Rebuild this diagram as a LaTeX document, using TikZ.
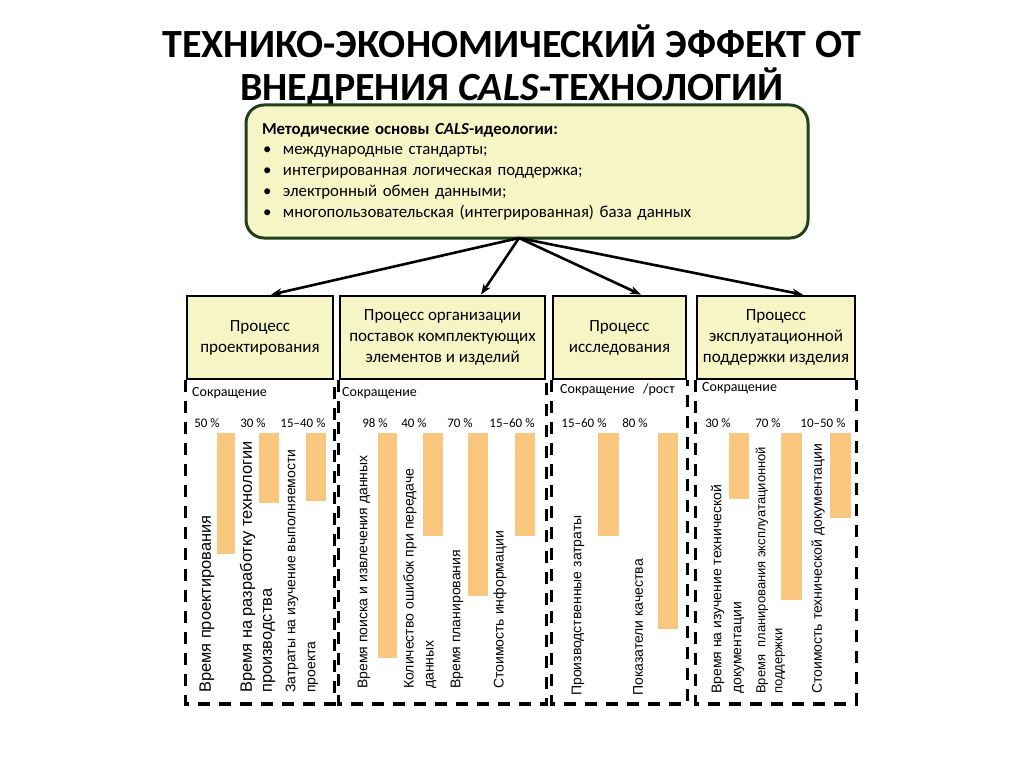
\documentclass[tikz,border=0pt]{standalone}
\usepackage{fontspec}
\setmainfont{Carlito}
\newfontfamily\arialf{Liberation Sans}
\usetikzlibrary{arrows.meta}
\definecolor{boxfill}{HTML}{F6F5C6}
\definecolor{topborder}{HTML}{22401A}
\definecolor{barcol}{HTML}{F9C77E}
\newcommand{\blt}{\makebox[21pt][l]{\hspace{1pt}\textbullet}}
\tikzset{
  topbox/.style={draw=topborder, line width=3pt, fill=boxfill, rounded corners=18pt,
    minimum width=562pt, minimum height=133pt, text width=530pt, align=left,
    font=\fontsize{16.8}{20.7}\selectfont},
  procbox/.style={draw=black, line width=2.7pt, fill=boxfill, align=center,
    minimum height=83pt, inner sep=2pt, font=\fontsize{17}{21}\selectfont},
  arr/.style={line width=2.6pt, -{Stealth[length=11pt,width=8pt]}},
  panel/.style={line width=3.5pt, dash pattern=on 12pt off 9pt},
  bar/.style={fill=barcol},
  pct/.style={inner sep=0pt, font=\fontsize{13}{15}\selectfont},
  redu/.style={inner sep=0pt, anchor=west, font=\fontsize{14}{16}\selectfont},
  rlab/.style={rotate=90, anchor=west, inner sep=0pt, align=left,
    font=\arialf\fontsize{14}{20}\selectfont},
  rlabbig/.style={rlab, font=\arialf\fontsize{16.4}{20}\selectfont},
  rlabsmall/.style={rlab, font=\arialf\fontsize{13}{17}\selectfont},
}
\begin{document}
\begin{tikzpicture}[x=1pt,y=-1pt]
\useasboundingbox[fill=white] (0,0) rectangle (1024,767);

% title
\node[align=center, font=\fontsize{40}{43}\bfseries\selectfont] (title) at (512,65.5)
  {ТЕХНИКО-ЭКОНОМИЧЕСКИЙ ЭФФЕКТ ОТ\\ВНЕДРЕНИЯ \textit{CALS}-ТЕХНОЛОГИЙ};

% top box
\node[topbox] (top) at (527,171.5)
  {\textbf{Методические основы \textit{CALS}-идеологии:}\\
   \blt международные стандарты;\\
   \blt интегрированная логическая поддержка;\\
   \blt электронный обмен данными;\\
   \blt многопользовательская (интегрированная) база данных};
\coordinate (src) at (519,238);

% process boxes
\node[procbox, minimum width=146pt] (p1) at (260,337.5) {Процесс\\проектирования};
\node[procbox, minimum width=205pt] (p2) at (442.5,337.5) {Процесс организации\\поставок комплектующих\\элементов и изделий};
\node[procbox, minimum width=133pt] (p3) at (619.5,337.5) {Процесс\\исследования};
\node[procbox, minimum width=158pt] (p4) at (776,337.5) {Процесс\\эксплуатационной\\поддержки изделия};

% arrows
\draw[arr] (src) -- ([xshift=11]p1.north);
\draw[arr] (src) -- ([xshift=38.5]p2.north);
\draw[arr] (src) -- ([xshift=21.5]p3.north);
\draw[arr] (src) -- ([xshift=27]p4.north);

% dashed panels
\draw[panel] (p1.south west) -- ++(0,323.5) -| (p1.south east);
\draw[panel] (p2.south west) -- ++(0,323.5) -| (p2.south east);
\draw[panel] (p3.south west) -- ++(0,323.5) -| (p3.south east);
\draw[panel] (p4.south west) -- ++(0,323.5) -| (p4.south east);

% panel 1
\node[redu] (r1) at (192,393) {Сокращение};
\node[pct] (a1) at (207,423) {50 \%};
\node[pct] (a2) at (253,423) {30 \%};
\node[pct] (a3) at (303,423) {15–40 \%};
\fill[bar] (217,433) rectangle (235,554);
\fill[bar] (259,433) rectangle (279,503);
\fill[bar] (306,433) rectangle (326,501);
\node[rlabbig] (l11) at (207,693) {Время проектирования};
\node[rlabbig] (l12) at (257.5,693) {Время на разработку технологии\\производства};
\node[rlab] (l13) at (302,693) {Затраты на изучение выполняемости\\проекта};

% panel 2
\node[redu] (r2) at (342,393) {Сокращение};
\node[pct] (b1) at (375,423) {98 \%};
\node[pct] (b2) at (414,423) {40 \%};
\node[pct] (b3) at (460,423) {70 \%};
\node[pct] (b4) at (512,423) {15–60 \%};
\fill[bar] (378,433) rectangle (397,658);
\fill[bar] (423,433) rectangle (443,536);
\fill[bar] (468,433) rectangle (488,596);
\fill[bar] (515,433) rectangle (535,536);
\node[rlab] (l21) at (364,689) {Время поиска и извлечения данных};
\node[rlab] (l22) at (420,689) {Количество ошибок при передаче\\данных};
\node[rlab] (l23) at (457,689) {Время планирования};
\node[rlab] (l24) at (500,689) {Стоимость информации};

% panel 3
\node[redu] (r3) at (560,390) {Сокращение};
\node[redu] (r3b) at (643,390) {/рост};
\node[pct] (c1) at (584,423) {15–60 \%};
\node[pct] (c2) at (635,423) {80 \%};
\fill[bar] (598,433) rectangle (619,536);
\fill[bar] (658,433) rectangle (678,629);
\node[rlab] (l31) at (578,696) {Производственные затраты};
\node[rlab] (l32) at (638,696) {Показатели качества};

% panel 4
\node[redu] (r4) at (702,388) {Сокращение};
\node[pct] (d1) at (718,423) {30 \%};
\node[pct] (d2) at (768,423) {70 \%};
\node[pct] (d3) at (823,423) {10–50 \%};
\fill[bar] (729,433) rectangle (749,499);
\fill[bar] (781,433) rectangle (802,600);
\fill[bar] (830,433) rectangle (851,518);
\node[rlab] (l41) at (727.5,694) {Время на изучение технической\\документации};
\node[rlabsmall] (l42) at (770.5,694) {Время~~планирования эксплуатационной\\поддержки};
\node[rlab] (l43) at (818,694) {Стоимость технической документации};
\end{tikzpicture}
\end{document}
